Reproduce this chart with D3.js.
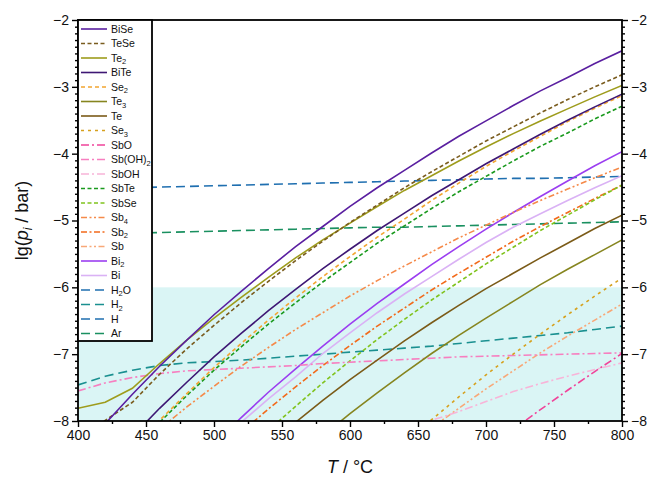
<!DOCTYPE html>
<html><head><meta charset="utf-8">
<script src="https://cdn.jsdelivr.net/npm/d3@7"></script>
<style>
body{margin:0;background:#fff}
svg{display:block}
text{font-family:"Liberation Sans",Arial,sans-serif}
</style>
</head><body>
<svg id="chart" width="651" height="479"></svg>
<script>
// ---- data (T in °C, lg(p/bar)) ----
const temps = [400,420,440,460,480,500,520,540,560,580,600,620,640,660,680,700,720,740,760,780,800];
const xTicks = [400,450,500,550,600,650,700,750,800];
const yTicks = [-8,-7,-6,-5,-4,-3,-2];
const _ = null;
const BiSe  = [-8.51,-8.04,-7.60,-7.18,-6.79,-6.41,-6.06,-5.72,-5.39,-5.09,-4.79,-4.51,-4.25,-3.99,-3.74,-3.51,-3.28,-3.06,-2.86,-2.65,-2.46];
const TeSe  = [-8.30,-7.99,-7.72,-7.30,-6.92,-6.57,-6.23,-5.91,-5.60,-5.31,-5.03,-4.77,-4.51,-4.27,-4.04,-3.81,-3.60,-3.39,-3.19,-3.00,-2.82];
const Te2   = [-7.81,-7.72,-7.51,-7.14,-6.79,-6.46,-6.15,-5.85,-5.56,-5.29,-5.04,-4.79,-4.55,-4.33,-4.11,-3.90,-3.70,-3.51,-3.33,-3.15,-2.98];
const BiTe  = [_,_,-8.23,-7.81,-7.42,-7.04,-6.69,-6.35,-6.03,-5.72,-5.43,-5.15,-4.89,-4.63,-4.39,-4.15,-3.93,-3.71,-3.50,-3.30,-3.11];
const Se2   = [_,_,-8.42,-7.99,-7.59,-7.20,-6.84,-6.49,-6.16,-5.84,-5.54,-5.25,-4.98,-4.70,-4.44,-4.19,-3.96,-3.74,-3.52,-3.32,-3.13];
const Te3   = [_,_,_,_,_,_,_,_,_,-8.22,-7.89,-7.58,-7.28,-6.99,-6.72,-6.46,-6.21,-5.96,-5.73,-5.51,-5.29];
const Te    = [_,_,_,_,_,_,_,-8.36,-8.02,-7.69,-7.38,-7.09,-6.80,-6.53,-6.27,-6.02,-5.79,-5.56,-5.34,-5.12,-4.92];
const Se3   = [_,_,_,_,_,_,_,_,_,_,_,_,-8.34,-7.98,-7.64,-7.31,-7.00,-6.70,-6.41,-6.13,-5.86];
const SbO   = [_,_,_,_,_,_,_,_,_,_,_,_,_,_,_,_,-8.13,-7.83,-7.54,-7.26,-6.99];
const SbOH2 = [-7.55,-7.43,-7.35,-7.29,-7.25,-7.23,-7.21,-7.19,-7.17,-7.14,-7.12,-7.10,-7.08,-7.06,-7.04,-7.03,-7.02,-7.01,-7.00,-6.99,-6.98];
const SbOH  = [_,_,_,_,_,_,_,_,_,_,_,_,-8.13,-7.99,-7.86,-7.71,-7.56,-7.44,-7.33,-7.23,-7.13];
const SbTe  = [_,_,-8.43,-8.02,-7.62,-7.24,-6.89,-6.55,-6.23,-5.92,-5.63,-5.34,-5.08,-4.82,-4.57,-4.34,-4.11,-3.89,-3.69,-3.48,-3.29];
const SbSe  = [_,_,_,_,_,_,_,-8.14,-7.78,-7.43,-7.10,-6.78,-6.48,-6.19,-5.92,-5.65,-5.40,-5.15,-4.92,-4.69,-4.47];
const Sb4   = [_,_,-8.46,-8.12,-7.79,-7.48,-7.18,-6.90,-6.63,-6.38,-6.13,-5.90,-5.68,-5.47,-5.26,-5.07,-4.88,-4.70,-4.53,-4.36,-4.20];
const Sb2   = [_,_,_,_,_,-8.54,-8.17,-7.82,-7.49,-7.17,-6.87,-6.58,-6.31,-6.04,-5.79,-5.55,-5.31,-5.09,-4.88,-4.67,-4.47];
const Sb    = [_,_,_,_,_,_,_,_,_,_,_,_,_,-8.10,-7.81,-7.52,-7.25,-6.98,-6.73,-6.49,-6.25];
const Bi2   = [_,_,_,_,_,-8.34,-7.95,-7.57,-7.22,-6.88,-6.55,-6.24,-5.95,-5.66,-5.39,-5.13,-4.88,-4.64,-4.41,-4.18,-3.97];
const Bi    = [_,_,_,_,_,-8.38,-8.02,-7.67,-7.34,-6.99,-6.68,-6.38,-6.10,-5.84,-5.58,-5.33,-5.10,-4.90,-4.70,-4.51,-4.33];
const H2O   = [-4.53,-4.52,-4.51,-4.50,-4.49,-4.48,-4.47,-4.46,-4.45,-4.44,-4.43,-4.42,-4.41,-4.40,-4.39,-4.38,-4.37,-4.37,-4.36,-4.35,-4.34];
const H2    = [-7.46,-7.33,-7.24,-7.17,-7.13,-7.11,-7.09,-7.06,-7.03,-7.00,-6.97,-6.94,-6.91,-6.88,-6.84,-6.80,-6.76,-6.72,-6.68,-6.63,-6.58];
const H     = temps.map(() => null); // below the plotted range
const Ar    = [-5.21,-5.20,-5.19,-5.18,-5.17,-5.16,-5.15,-5.14,-5.13,-5.12,-5.11,-5.10,-5.10,-5.09,-5.08,-5.07,-5.06,-5.05,-5.04,-5.03,-5.02];

// label: [base, subscript, tail]
const series = [
  {label:["BiSe"],         values:BiSe,  color:"#5a1fa0", dash:null},
  {label:["TeSe"],         values:TeSe,  color:"#7a5c1e", dash:"4,2.5"},
  {label:["Te","2"],       values:Te2,   color:"#9e9c1c", dash:null},
  {label:["BiTe"],         values:BiTe,  color:"#3e1774", dash:null},
  {label:["Se","2"],       values:Se2,   color:"#f2a531", dash:"4,3"},
  {label:["Te","3"],       values:Te3,   color:"#86851f", dash:null},
  {label:["Te"],           values:Te,    color:"#7b5b18", dash:null},
  {label:["Se","3"],       values:Se3,   color:"#d6a11e", dash:"3,4"},
  {label:["SbO"],          values:SbO,   color:"#f0449a", dash:"8,3,2,3"},
  {label:["Sb(OH)","2"],   values:SbOH2, color:"#f77fc0", dash:"8,3,2,3"},
  {label:["SbOH"],         values:SbOH,  color:"#f8b4d8", dash:"8,3,2,3"},
  {label:["SbTe"],         values:SbTe,  color:"#1a9a1e", dash:"4,2.5"},
  {label:["SbSe"],         values:SbSe,  color:"#80c31e", dash:"4,2.5"},
  {label:["Sb","4"],       values:Sb4,   color:"#f58a4a", dash:"6,2.5,2,2.5,2,2.5"},
  {label:["Sb","2"],       values:Sb2,   color:"#f26a1b", dash:"6,2.5,2,2.5"},
  {label:["Sb"],           values:Sb,    color:"#f8a878", dash:"6,2.5,2,2.5,2,2.5"},
  {label:["Bi","2"],       values:Bi2,   color:"#9b3ef0", dash:null},
  {label:["Bi"],           values:Bi,    color:"#dab2f5", dash:null},
  {label:["H","2","O"],    values:H2O,   color:"#1f6fb0", dash:"9,5"},
  {label:["H","2"],        values:H2,    color:"#1a9090", dash:"9,5"},
  {label:["H"],            values:H,     color:"#1f6fb0", dash:"9,5"},
  {label:["Ar"],           values:Ar,    color:"#1a9060", dash:"9,5"}
];

// ---- layout ----
const svg = d3.select("#chart");
const X0 = 78, X1 = 622, Y0 = 20, Y1 = 421;
const x = d3.scaleLinear().domain([400,800]).range([X0,X1]);
const y = d3.scaleLinear().domain([-8,-2]).range([Y1,Y0]);

svg.append("defs").append("clipPath").attr("id","plotclip")
  .append("rect").attr("x",X0).attr("y",Y0).attr("width",X1-X0).attr("height",Y1-Y0);

// shaded band
svg.append("rect").attr("x",x(400)).attr("y",y(-6))
  .attr("width",x(800)-x(400)).attr("height",y(-8)-y(-6))
  .attr("fill","#daf5f5");

// lines
const line = d3.line().defined(d => d[1] != null).x(d => x(d[0])).y(d => y(d[1]));
const g = svg.append("g").attr("clip-path","url(#plotclip)");
series.slice().reverse().forEach(s => {
  g.append("path").datum(temps.map((t,i)=>[t,s.values[i]]))
    .attr("d",line).attr("fill","none").attr("stroke",s.color)
    .attr("stroke-width",1.6).attr("stroke-dasharray",s.dash);
});

// minor ticks
const yMinor = d3.range(-8,-2.0001,0.1).filter(v => Math.abs(v - Math.round(v)) > 1e-6);
const xMinor = d3.range(425,800,50);

function styleAxis(sel){
  sel.select(".domain").remove();
  sel.selectAll(".tick line").attr("stroke","#000").attr("stroke-width",1.4);
  sel.selectAll(".tick text").attr("font-size",14).attr("fill","#111")
    .style("font-family",'"Liberation Sans",Arial,sans-serif');
}
const fmt = d3.format("d");
svg.append("g").attr("transform",`translate(${X0},0)`)
  .call(d3.axisLeft(y).tickValues(yTicks).tickFormat(fmt).tickSize(6).tickPadding(3)).call(styleAxis);
svg.append("g").attr("transform",`translate(${X1},0)`)
  .call(d3.axisRight(y).tickValues(yTicks).tickFormat(fmt).tickSize(6).tickPadding(3)).call(styleAxis);
svg.append("g").attr("transform",`translate(0,${Y1})`)
  .call(d3.axisBottom(x).tickValues(xTicks).tickFormat(fmt).tickSize(6).tickPadding(3)).call(styleAxis);
svg.append("g").attr("transform",`translate(${X0},0)`)
  .call(d3.axisLeft(y).tickValues(yMinor).tickFormat("").tickSize(3)).call(styleAxis);
svg.append("g").attr("transform",`translate(${X1},0)`)
  .call(d3.axisRight(y).tickValues(yMinor).tickFormat("").tickSize(3)).call(styleAxis);
svg.append("g").attr("transform",`translate(0,${Y1})`)
  .call(d3.axisBottom(x).tickValues(xMinor).tickFormat("").tickSize(3)).call(styleAxis);

// frame
svg.append("rect").attr("x",X0).attr("y",Y0).attr("width",X1-X0).attr("height",Y1-Y0)
  .attr("fill","none").attr("stroke","#000").attr("stroke-width",1.8);

// legend
const LX = 78, LY = 20, LW = 74, LH = 321, step = 14.5;
const lg = svg.append("g");
lg.append("rect").attr("x",LX).attr("y",LY).attr("width",LW).attr("height",LH)
  .attr("fill","#fff").attr("stroke","#000").attr("stroke-width",1.8);
series.forEach((s,i) => {
  const yy = LY + 9 + i*step;
  lg.append("line").attr("x1",LX+3).attr("x2",LX+29).attr("y1",yy).attr("y2",yy)
    .attr("stroke",s.color).attr("stroke-width",1.6).attr("stroke-dasharray",s.dash);
  const t = lg.append("text").attr("x",LX+33).attr("y",yy).attr("dy","0.36em")
    .attr("font-size",10.5).attr("fill","#111");
  t.append("tspan").text(s.label[0]);
  if (s.label[1]) t.append("tspan").attr("font-size",7.5).attr("dy","0.3em").text(s.label[1]);
  if (s.label[2]) t.append("tspan").attr("dy","-0.22em").text(s.label[2]);
});

// axis titles
const yt = svg.append("text").attr("transform",`translate(28,${(Y0+Y1)/2}) rotate(-90)`)
  .attr("text-anchor","middle").attr("font-size",18).attr("fill","#111");
yt.append("tspan").text("lg(");
yt.append("tspan").attr("font-style","italic").text("p");
yt.append("tspan").attr("font-style","italic").attr("font-size",12).attr("dy","0.3em").text("i");
yt.append("tspan").attr("dy","-0.2em").text(" / bar)");

const xt = svg.append("text").attr("x",(X0+X1)/2).attr("y",473)
  .attr("text-anchor","middle").attr("font-size",18).attr("fill","#111");
xt.append("tspan").attr("font-style","italic").text("T");
xt.append("tspan").text(" / °C");
</script>
</body></html>
